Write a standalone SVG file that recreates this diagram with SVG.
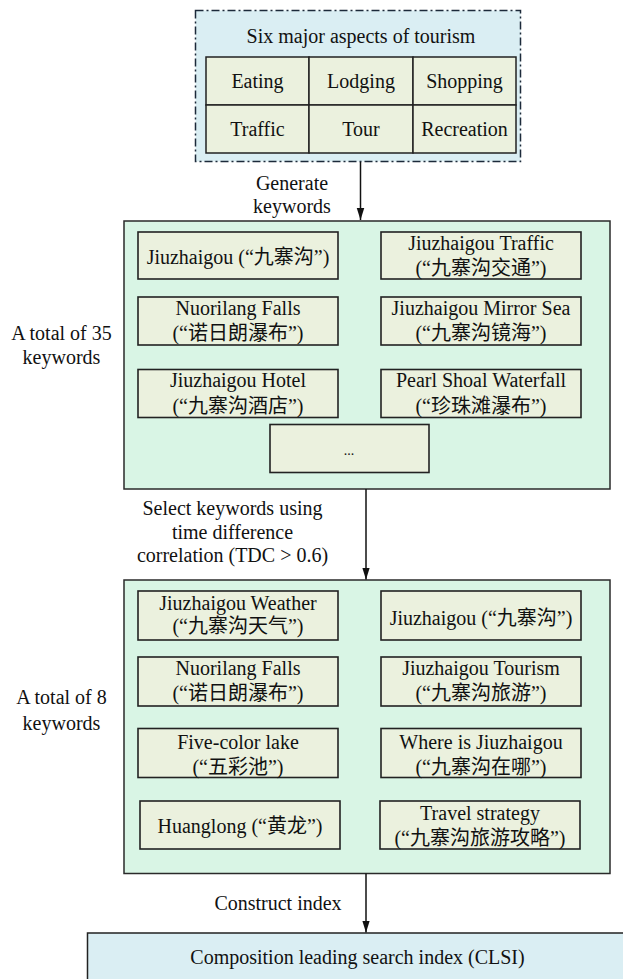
<svg xmlns="http://www.w3.org/2000/svg" width="623" height="979" viewBox="0 0 623 979">
<style>
text{font-family:"Liberation Serif","Noto Sans CJK SC",serif;font-size:20px;fill:#111;text-anchor:middle}
.big{fill:#d9f5e5;stroke:#2a2a2a;stroke-width:1.5}
.kw{fill:#ebf1de;stroke:#222;stroke-width:1.6}
.cell{fill:#ebf1de;stroke:#222;stroke-width:1.5}
.conn{stroke:#111;stroke-width:1.5;fill:none}
</style>
<defs>
<marker id="ah" markerUnits="userSpaceOnUse" markerWidth="12" markerHeight="18" refX="16" refY="5" orient="auto" viewBox="0 0 16 10">
<path d="M0,0 L16,5 L0,10 Z" fill="#111"/>
</marker>
</defs>

<g id="aspects">
<rect x="195.5" y="10.5" width="325" height="151" fill="#daeef3" stroke="#1c2a3a" stroke-width="1.5" stroke-dasharray="8,3,2,3"/>
<text x="361" y="43">Six major aspects of tourism</text>
<rect class="cell" x="206" y="57" width="103" height="48"/>
<rect class="cell" x="309" y="57" width="104" height="48"/>
<rect class="cell" x="413" y="57" width="103" height="48"/>
<rect class="cell" x="206" y="105" width="103" height="48"/>
<rect class="cell" x="309" y="105" width="104" height="48"/>
<rect class="cell" x="413" y="105" width="103" height="48"/>
<text x="257.5" y="88">Eating</text>
<text x="361" y="88">Lodging</text>
<text x="464.5" y="88">Shopping</text>
<text x="257.5" y="136">Traffic</text>
<text x="361" y="136">Tour</text>
<text x="464.5" y="136">Recreation</text>
</g>

<g id="keywords35">
<rect class="big" x="124" y="221" width="486" height="268"/>
<rect class="kw" x="138" y="232" width="200" height="47"/>
<text x="238" y="264">Jiuzhaigou (“九寨沟”)</text>
<rect class="kw" x="381" y="232" width="200" height="47"/>
<text x="481" y="250">Jiuzhaigou Traffic</text>
<text x="481" y="275">(“九寨沟交通”)</text>
<rect class="kw" x="138" y="297" width="200" height="48"/>
<text x="238" y="315">Nuorilang Falls</text>
<text x="238" y="340">(“诺日朗瀑布”)</text>
<rect class="kw" x="381" y="297" width="200" height="48"/>
<text x="481" y="315">Jiuzhaigou Mirror Sea</text>
<text x="481" y="340">(“九寨沟镜海”)</text>
<rect class="kw" x="138" y="369.5" width="200" height="48"/>
<text x="238" y="387">Jiuzhaigou Hotel</text>
<text x="238" y="413">(“九寨沟酒店”)</text>
<rect class="kw" x="381" y="369.5" width="200" height="48"/>
<text x="481" y="387">Pearl Shoal Waterfall</text>
<text x="481" y="413">(“珍珠滩瀑布”)</text>
<rect class="kw" x="270" y="424.5" width="159" height="48"/>
<text x="349" y="455" style="font-size:14px">...</text>
<text x="61.5" y="340">A total of 35</text>
<text x="61.5" y="364">keywords</text>
</g>

<g id="keywords8">
<rect class="big" x="124" y="580" width="486" height="293.5"/>
<rect class="kw" x="138" y="591" width="200" height="49"/>
<text x="238" y="610">Jiuzhaigou Weather</text>
<text x="238" y="633">(“九寨沟天气”)</text>
<rect class="kw" x="381" y="591" width="200" height="49"/>
<text x="481" y="625">Jiuzhaigou (“九寨沟”)</text>
<rect class="kw" x="138" y="657" width="200" height="49"/>
<text x="238" y="675">Nuorilang Falls</text>
<text x="238" y="700">(“诺日朗瀑布”)</text>
<rect class="kw" x="381" y="657" width="200" height="49"/>
<text x="481" y="675">Jiuzhaigou Tourism</text>
<text x="481" y="700">(“九寨沟旅游”)</text>
<rect class="kw" x="138" y="728.5" width="200" height="49"/>
<text x="238" y="748.5">Five-color lake</text>
<text x="238" y="773.5">(“五彩池”)</text>
<rect class="kw" x="381" y="728.5" width="200" height="49"/>
<text x="481" y="748.5">Where is Jiuzhaigou</text>
<text x="481" y="773.5">(“九寨沟在哪”)</text>
<rect class="kw" x="140" y="801" width="200" height="48"/>
<text x="240" y="833">Huanglong (“黄龙”)</text>
<rect class="kw" x="380" y="801" width="200" height="48"/>
<text x="480" y="820">Travel strategy</text>
<text x="480" y="845">(“九寨沟旅游攻略”)</text>
<text x="61.5" y="704">A total of 8</text>
<text x="61.5" y="730">keywords</text>
</g>

<g id="clsi">
<rect x="87.5" y="933" width="560" height="60" fill="#daeef3" stroke="#222" stroke-width="1.5"/>
<text x="357.5" y="964">Composition leading search index (CLSI)</text>
</g>

<g id="connectors">
<line class="conn" x1="360.5" y1="162" x2="360.5" y2="220" marker-end="url(#ah)"/>
<text x="292" y="190">Generate</text>
<text x="292" y="213">keywords</text>
<line class="conn" x1="366" y1="489" x2="366" y2="579.5" marker-end="url(#ah)"/>
<text x="232.5" y="515">Select keywords using</text>
<text x="232.5" y="539">time difference</text>
<text x="232.5" y="562">correlation (TDC &gt; 0.6)</text>
<line class="conn" x1="366" y1="873.5" x2="366" y2="932.5" marker-end="url(#ah)"/>
<text x="278" y="910">Construct index</text>
</g>
</svg>
